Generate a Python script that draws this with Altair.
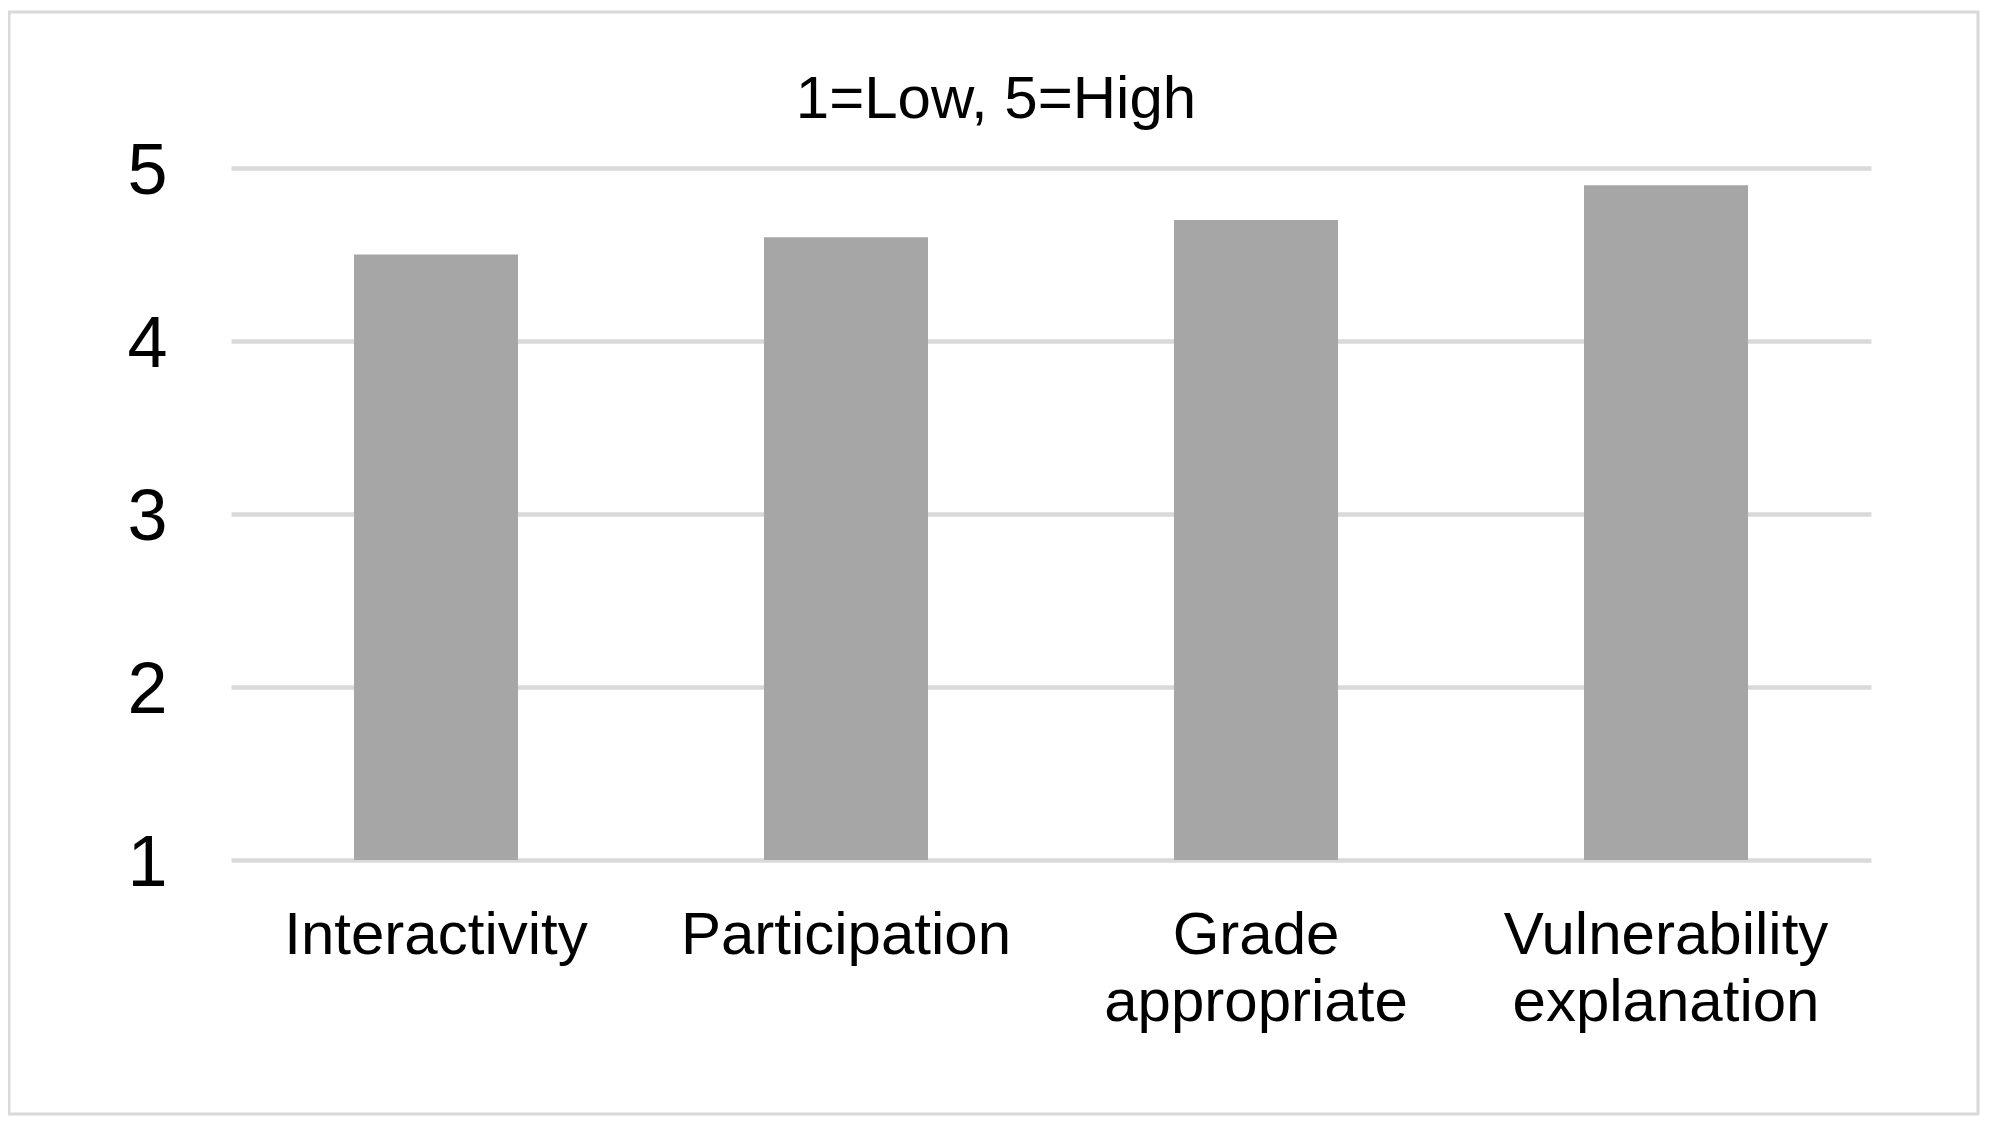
import altair as alt
import pandas as pd

categories = ["Interactivity", "Participation", "Grade appropriate", "Vulnerability explanation"]
scores = [4.5, 4.6, 4.7, 4.9]
y_ticks = [1, 2, 3, 4, 5]
chart_title = "1=Low, 5=High"

FONT = "Liberation Sans, Arial, sans-serif"

df = pd.DataFrame({"category": categories, "score": scores})

x_enc = alt.X(
    "category:N",
    sort=categories,
    title=None,
    scale=alt.Scale(paddingInner=0.6, paddingOuter=0.3),
    axis=alt.Axis(
        labelAngle=0,
        labelFontSize=60,
        labelFont=FONT,
        labelColor="#000000",
        labelExpr="split(datum.value, ' ')",
        labelLineHeight=67,
        labelBaseline="top",
        labelPadding=46,
        labelLimit=600,
        ticks=False,
        tickSize=0,
        domain=False,
        grid=False,
    ),
)

y_enc = alt.Y(
    "score:Q",
    title=None,
    scale=alt.Scale(domain=[1, 5], nice=False, zero=False),
    axis=alt.Axis(
        values=y_ticks,
        labelFontSize=72,
        labelFont=FONT,
        labelColor="#000000",
        labelPadding=64,
        labelOffset=3,
        ticks=False,
        tickSize=0,
        domain=False,
        grid=True,
        gridColor="#d9d9d9",
        gridWidth=4.5,
    ),
)

bars = alt.Chart(df).mark_bar(color="#a6a6a6").encode(
    x=x_enc,
    y=y_enc,
    y2=alt.datum(1),
)

border = alt.Chart(alt.Data(values=[{"k": 1}])).mark_rect(
    fill="transparent", stroke="#d9d9d9", strokeWidth=3, clip=False
).encode(
    x=alt.value(-222),
    x2=alt.value(1747),
    y=alt.value(-156),
    y2=alt.value(946),
)

title = alt.Chart(alt.Data(values=[{"t": chart_title}])).mark_text(
    font=FONT, fontSize=60, color="#000000", align="center", baseline="alphabetic"
).encode(
    text="t:N",
    x=alt.value(765),
    y=alt.value(-50),
)

chart = (
    alt.layer(border, bars, title)
    .properties(
        width=1640,
        height=692,
        autosize=alt.AutoSizeParams(type="none"),
        padding={"left": 223, "top": 160, "right": 110, "bottom": 256},
        background="#ffffff",
    )
    .configure_view(stroke=None)
)

chart.save("out.html", embed_options={"renderer": "svg", "actions": False})
